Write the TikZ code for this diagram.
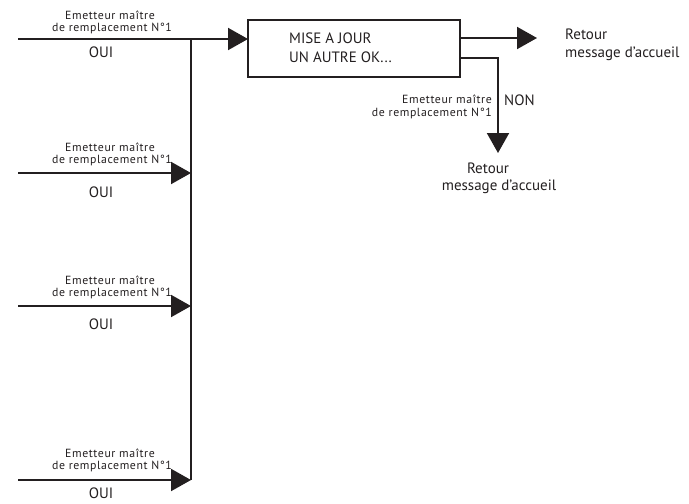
\documentclass[tikz,border=0pt]{standalone}
\usepackage{fontspec}
\setmainfont{PT Sans}
\newfontfamily\smallfam[LetterSpace=5]{PT Sans}
\usetikzlibrary{arrows.meta}
\definecolor{ink}{HTML}{231F20}
\tikzset{
  conn/.style={draw=ink, line width=2pt},
  arr/.style={conn, -{Triangle[length=20pt,width=22pt]}},
  lbl/.style={text=ink, inner sep=0pt, font=\fontsize{15}{18}\selectfont},
  small/.style={text=ink, inner sep=0pt, font=\smallfam\fontsize{11.8}{13}\selectfont},
  box/.style={draw=ink, line width=2pt, minimum width=212pt, minimum height=57pt, inner sep=0pt}
}
\newcommand{\apos}{{\char39}}
\begin{document}
\begin{tikzpicture}[x=1pt,y=-1pt]
\useasboundingbox (0,0) rectangle (689,504);
% main box
\node[box] (box) at (354,48.5) {};
\node[lbl, anchor=base west, align=left] (t1) at (289,43) {MISE A JOUR};
\node[lbl, anchor=base west, align=left] (t2) at (289,62) {UN AUTRE OK...};
% top input
\coordinate (s1) at (18,39);
\coordinate (j1) at (191,39);
\coordinate (b1) at (248,39);
\draw[arr] (s1) -- (b1);
\node[small] (e1a) at (110,15) {Emetteur maître};
\node[small] (e1b) at (112,28) {de remplacement N°1};
\node[lbl] (o1) at (101,52) {OUI};
% vertical bus
\coordinate (j4) at (191,480);
\draw[conn] (j1) -- (j4);
% input 2
\coordinate (s2) at (18,173);
\coordinate (j2) at (191,173);
\draw[arr] (s2) -- (j2);
\node[small] (e2a) at (110,147) {Emetteur maître};
\node[small] (e2b) at (112,160) {de remplacement N°1};
\node[lbl] (o2) at (101,192) {OUI};
% input 3
\coordinate (s3) at (18,306);
\coordinate (j3) at (191,306);
\draw[arr] (s3) -- (j3);
\node[small] (e3a) at (110,280) {Emetteur maître};
\node[small] (e3b) at (112,293) {de remplacement N°1};
\node[lbl] (o3) at (101,324) {OUI};
% input 4
\coordinate (s4) at (18,480);
\draw[arr] (s4) -- (j4);
\node[small] (e4a) at (110,453) {Emetteur maître};
\node[small] (e4b) at (112,466) {de remplacement N°1};
\node[lbl] (o4) at (101,493) {OUI};
% outputs
\coordinate (r1) at (460,38);
\coordinate (r1e) at (537,38);
\draw[arr] (r1) -- (r1e);
\node[lbl, anchor=west, align=left] (ret1) at (565,45) {Retour\\message d\apos accueil};
\coordinate (r2) at (460,58);
\coordinate (r2c) at (498,58);
\coordinate (r2e) at (498,153);
\draw[arr] (r2) -- (r2c) -- (r2e);
\node[lbl, anchor=west] (non) at (504,100) {NON};
\node[small, anchor=east, align=right] (e5) at (492,107) {Emetteur maître\\de remplacement N°1};
\node[lbl] (ret2a) at (488,168) {Retour};
\node[lbl] (ret2b) at (499,187) {message d\apos accueil};
\end{tikzpicture}
\end{document}
